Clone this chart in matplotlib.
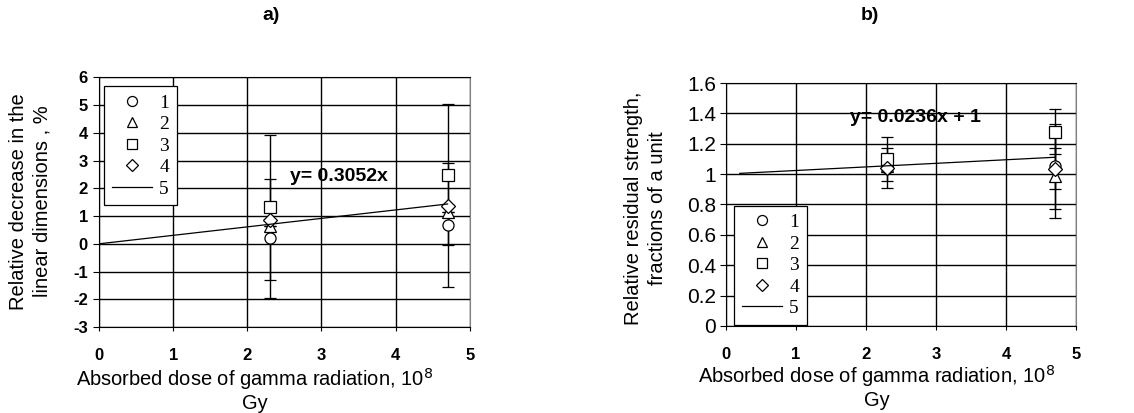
import numpy as np
import matplotlib.pyplot as plt
from matplotlib.ticker import FormatStrFormatter, MultipleLocator

plt.rcParams['axes.unicode_minus'] = False

# dose, 10^8 Gy
dose = [2.3, 4.7]

# a) relative decrease in linear dimensions, %
a_s1 = [0.2, 0.68]
a_e1 = [2.15, 2.23]
a_s2 = [0.65, 1.15]
a_e2 = [0.0, 0.0]
a_s3 = [1.31, 2.49]
a_e3 = [2.61, 2.53]
a_s4 = [0.87, 1.36]
a_e4 = [0.0, 0.0]
a_slope, a_icpt = 0.3052, 0.0
a_fit_x = [0.0, 4.7]

# b) relative residual strength, fractions of a unit
b_s1 = [1.04, 1.05]
b_e1 = [0.0, 0.28]
b_s2 = [1.05, 0.99]
b_e2 = [0.0, 0.28]
b_s3 = [1.10, 1.28]
b_e3 = [0.145, 0.15]
b_s4 = [1.04, 1.035]
b_e4 = [0.135, 0.135]
b_slope, b_icpt = 0.0236, 1.0
b_fit_x = [0.2, 4.7]

markers = ['o', '^', 's', 'D']
msizes = [8, 8, 8, 7]
labels = ['1', '2', '3', '4', '5']

SANS = 'Liberation Sans'
SERIF = 'Liberation Serif'

fig = plt.figure(figsize=(11.34, 4.13), dpi=100)
axa = fig.add_axes([0.0873, 0.208, 0.327, 0.605])
axb = fig.add_axes([0.640, 0.211, 0.309, 0.588])


def draw(ax, series, errs, slope, icpt, fit_x):
    handles = []
    for s, e, m, ms in zip(series, errs, markers, msizes):
        h = ax.errorbar(dose, s, yerr=e, fmt=m, ms=ms, mfc='white', mec='black',
                        mew=0.9, ecolor='black', elinewidth=1.0, capsize=4,
                        capthick=1.0, zorder=3)
        handles.append(h[0])
    fx = np.array(fit_x)
    ln, = ax.plot(fx, slope * fx + icpt, color='black', lw=0.9, zorder=4)
    handles.append(ln)
    ax.grid(True, color='black', lw=1.0)
    ax.set_axisbelow(True)
    ax.xaxis.set_major_locator(MultipleLocator(1))
    for sp in ax.spines.values():
        sp.set_color('black')
    ax.spines['right'].set_color('#808080')
    return handles


ha = draw(axa, [a_s1, a_s2, a_s3, a_s4], [a_e1, a_e2, a_e3, a_e4], a_slope, a_icpt, a_fit_x)
hb = draw(axb, [b_s1, b_s2, b_s3, b_s4], [b_e1, b_e2, b_e3, b_e4], b_slope, b_icpt, b_fit_x)

axa.set_xlim(0, 5)
axa.set_ylim(-3, 6)
axa.yaxis.set_major_locator(MultipleLocator(1))
axb.set_xlim(0, 5)
axb.set_ylim(0, 1.6)
axb.yaxis.set_major_locator(MultipleLocator(0.2))
axb.yaxis.set_major_formatter(FormatStrFormatter('%g'))

for ax in (axa, axb):
    ax.tick_params(axis='x', length=3, pad=12, labelsize=12)
    ax.tick_params(axis='y', length=4, pad=4, labelsize=12)
    for t in ax.get_xticklabels():
        t.set_fontfamily(SANS)
        t.set_fontweight('bold')
for t in axa.get_yticklabels():
    t.set_fontfamily(SANS)
    t.set_fontweight('bold')
axb.tick_params(axis='y', labelsize=15, pad=3)
for t in axb.get_yticklabels():
    t.set_fontfamily(SANS)

xlab = 'Absorbed dose of gamma radiation, 10$^8$\nGy'
for ax, lx in ((axa, 0.42), (axb, 0.43)):
    ax.set_xlabel(xlab, fontsize=14.5, fontfamily=SANS, linespacing=1.12, va='top')
    ax.xaxis.set_label_coords(lx, -0.155)

axa.set_ylabel('Relative decrease in the\nlinear dimensions , %', fontsize=14.5,
               fontfamily=SANS, linespacing=1.3)
axa.yaxis.set_label_coords(-0.127, 0.504)
axb.set_ylabel('Relative residual strength,\nfractions of a unit', fontsize=14.5,
               fontfamily=SANS, linespacing=1.3)
axb.yaxis.set_label_coords(-0.169, 0.486)

axa.text(2.57, 2.41, 'y= 0.3052x', fontsize=14, fontweight='bold', fontfamily=SANS,
         va='center', zorder=5)
axb.text(1.77, 1.37, 'y= 0.0236x + 1', fontsize=14, fontweight='bold', fontfamily=SANS,
         va='center', zorder=5)

leg_kw = dict(prop={'family': SERIF, 'size': 14}, frameon=True, fancybox=False,
              edgecolor='black', framealpha=1, handlelength=2.1, handletextpad=0.35,
              labelspacing=0.2, borderpad=0.4, borderaxespad=0, markerscale=0.9)
la = axa.legend(ha, labels, loc='upper left', bbox_to_anchor=(0.013, 0.964), **leg_kw)
lb = axb.legend(hb, labels, loc='lower left', bbox_to_anchor=(0.023, 0.004), **leg_kw)
for lg in (la, lb):
    lg.get_frame().set_linewidth(0.9)
    lg.set_zorder(6)

fig.text(271 / 1134, 1 - 15 / 413, 'a)', fontsize=14, fontweight='bold',
         fontfamily=SANS, ha='center', va='center')
fig.text(870 / 1134, 1 - 15 / 413, 'b)', fontsize=14, fontweight='bold',
         fontfamily=SANS, ha='center', va='center')

fig.savefig('out.png', dpi=100)
